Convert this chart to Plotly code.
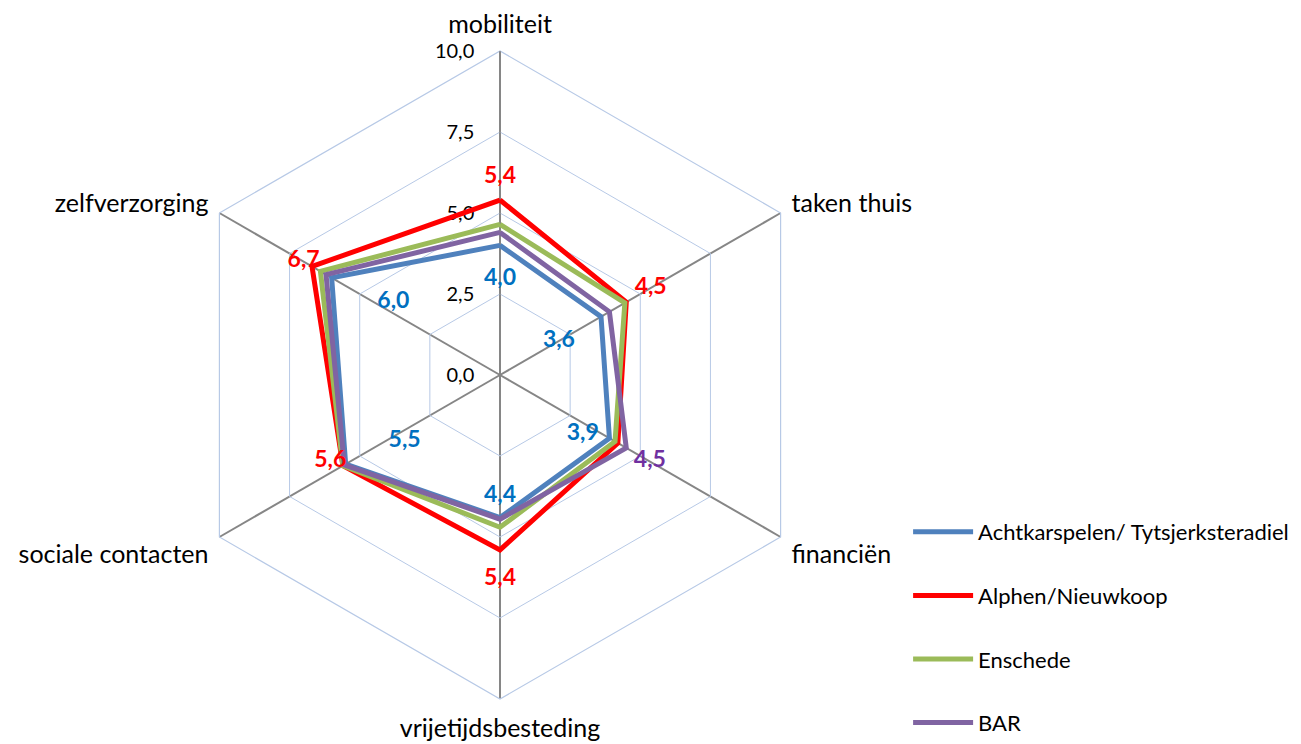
import plotly.graph_objects as go

categories = ["mobiliteit", "taken thuis", "financiën", "vrijetijdsbesteding",
              "sociale contacten", "zelfverzorging"]
series_names = ["Achtkarspelen/ Tytsjerksteradiel", "Alphen/Nieuwkoop", "Enschede", "BAR"]
achtkarspelen = [4.0, 3.6, 3.9, 4.4, 5.5, 6.0]
alphen = [5.4, 4.5, 4.2, 5.4, 5.6, 6.7]
enschede = [4.65, 4.45, 4.1, 4.7, 5.6, 6.4]
bar = [4.4, 3.9, 4.5, 4.45, 5.55, 6.2]
radial_ticks = [0, 2.5, 5, 7.5, 10]
radial_ticktext = ["0,0", "2,5", "5,0", "7,5", "10,0"]

# which points carry a data label (per series)
label_flags = {
    0: [1, 1, 1, 1, 1, 1],
    1: [1, 1, 0, 1, 1, 1],
    2: [0, 0, 0, 0, 0, 0],
    3: [0, 0, 1, 0, 0, 0],
}

# label placement (style): radial shift relative to value, and text position
label_shift = {
    0: [-1.05, -1.5, -0.95, -0.65, -2.1, -2.2],
    1: [0.7, 0.87, 0, 0.9, 0.45, 0.3],
    3: [0, 0, 0.84, 0, 0, 0],
}
label_pos = {
    0: ["middle center", "middle center", "bottom center", "middle center", "bottom center", "top center"],
    1: ["middle center", "middle center", "middle center", "middle center", "top center", "middle center"],
    3: ["middle center"] * 6,
}

colors = ["#4F81BD", "#FF0000", "#9BBB59", "#8064A2"]
label_colors = ["#0070C0", "#FF0000", "#9BBB59", "#7030A0"]
values = [achtkarspelen, alphen, enschede, bar]

FONT = "Lato"

fig = go.Figure()
for i, (name, vals) in enumerate(zip(series_names, values)):
    fig.add_trace(go.Scatterpolar(
        r=vals + vals[:1], theta=categories + categories[:1],
        mode="lines", name=name, legendgroup=name,
        line=dict(color=colors[i], width=5),
        hoverinfo="skip",
    ))

for i, vals in enumerate(values):
    if i not in label_shift:
        continue
    rr, tt, tx, tp = [], [], [], []
    for j, v in enumerate(vals):
        if label_flags[i][j]:
            rr.append(v + label_shift[i][j])
            tt.append(categories[j])
            tx.append(f"{v:.1f}".replace(".", ","))
            tp.append(label_pos[i][j])
    fig.add_trace(go.Scatterpolar(
        r=rr, theta=tt, text=tx, mode="text", textposition=tp,
        textfont=dict(family=FONT, size=23, color=label_colors[i], weight="bold"),
        showlegend=False, hoverinfo="skip",
    ))

W, H = 1301, 744
cx, cy, R = 500, 375, 324
fig.update_layout(
    width=W, height=H,
    margin=dict(l=0, r=0, t=0, b=0),
    paper_bgcolor="white",
    font=dict(family=FONT, color="black"),
    polar=dict(
        domain=dict(x=[(cx - R) / W, (cx + R) / W], y=[(H - cy - R) / H, (H - cy + R) / H]),
        bgcolor="white",
        gridshape="linear",
        radialaxis=dict(
            range=[0, 10], tickvals=radial_ticks, ticktext=radial_ticktext,
            angle=90, tickangle=90, side="counterclockwise",
            showline=True, linecolor="#868686", linewidth=1.5,
            gridcolor="#B7C9E6", gridwidth=1.2,
            ticks="outside", ticklen=18, tickcolor="rgba(0,0,0,0)",
            tickfont=dict(family=FONT, size=20, color="black"),
            layer="below traces",
        ),
        angularaxis=dict(
            direction="clockwise", rotation=90,
            showline=True, linecolor="#B7C9E6", linewidth=1.2,
            gridcolor="#868686", gridwidth=1.5,
            ticks="outside", ticklen=7, tickcolor="rgba(0,0,0,0)",
            tickfont=dict(family=FONT, size=25, color="black"),
            layer="below traces",
        ),
    ),
    legend=dict(
        x=0.698, y=0.0, xanchor="left", yanchor="bottom",
        font=dict(family=FONT, size=22, color="black"),
        traceorder="grouped", tracegroupgap=32,
        itemwidth=60,
    ),
)

fig.write_html("out.html", post_script="document.body.style.margin='0px';",
               config={"displayModeBar": False})
